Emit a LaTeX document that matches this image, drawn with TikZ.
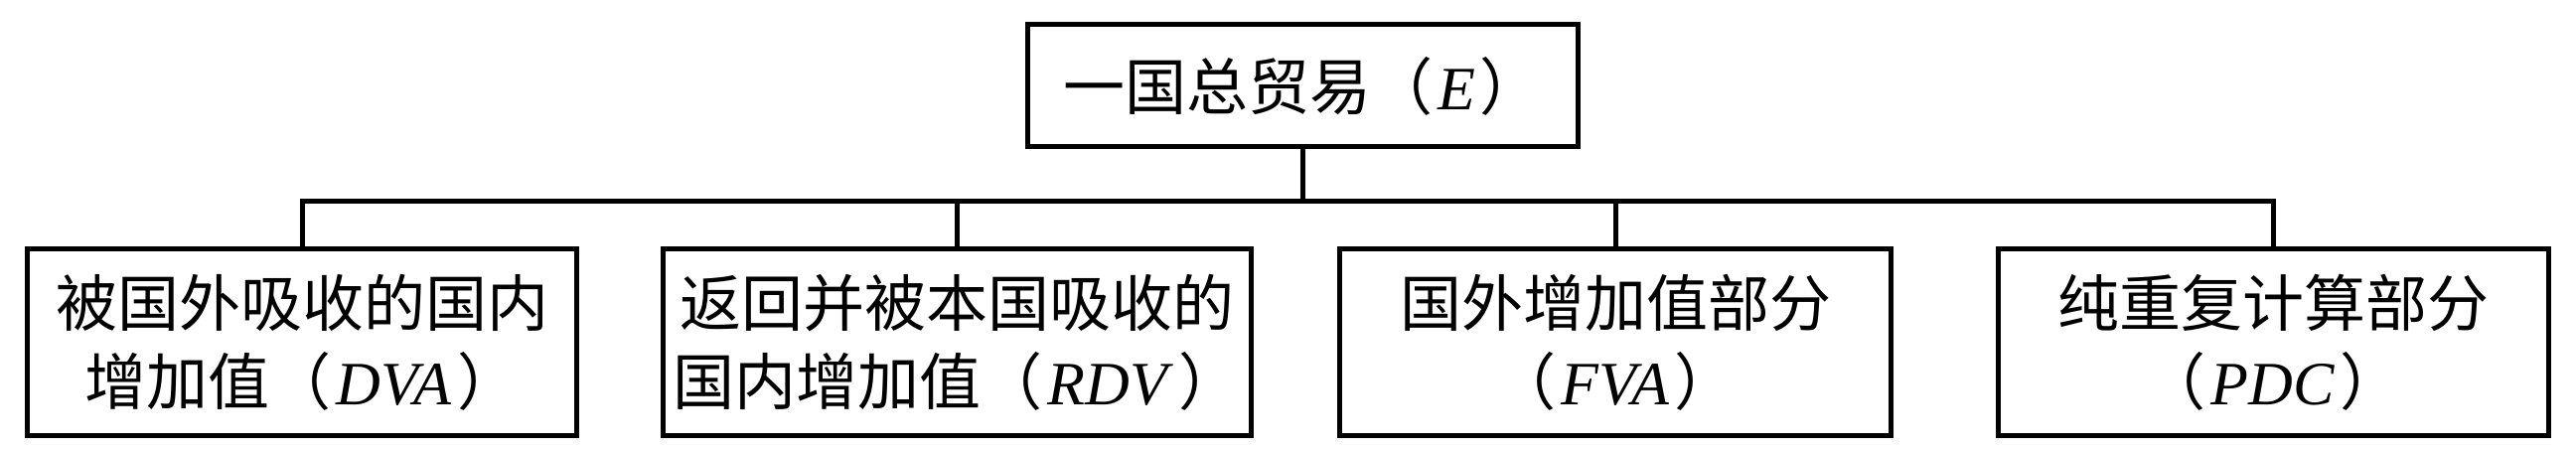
\documentclass[tikz,border=0pt]{standalone}
\usepackage{fontspec}
\setmainfont{Liberation Serif}
\newfontfamily\cjk{Noto Sans CJK SC}
\newcommand{\lat}[1]{\hspace{5pt}\textit{#1}\hspace{5pt}}
\begin{document}
\begin{tikzpicture}[x=1pt,y=-1pt,
  box/.style={draw=black, line width=5pt, line join=miter, rectangle, align=center, inner sep=0pt,
              font=\fontsize{62}{79}\selectfont, text=black},
  conn/.style={draw=black, line width=5pt, line join=miter}]
\fill[white] (0,0) rectangle (2593,454);
\useasboundingbox (0,0) rectangle (2593,454);

\node[box, minimum width=554pt, minimum height=123pt] (top) at (1311,86.5)
  {{\cjk 一国总贸易（}\lat{E}{\cjk ）}};

\node[box, minimum width=553pt, minimum height=187pt] (b1) at (304,344.5)
  {{\cjk 被国外吸收的国内}\\{\cjk 增加值（}\lat{DVA}{\cjk ）}};
\node[box, minimum width=592pt, minimum height=187pt] (b2) at (963,344.5)
  {{\cjk 返回并被本国吸收的}\\{\cjk 国内增加值（}\lat{RDV}{\cjk ）}};
\node[box, minimum width=555pt, minimum height=187pt] (b3) at (1626,344.5)
  {{\cjk 国外增加值部分}\\{\cjk （}\lat{FVA}{\cjk ）}};
\node[box, minimum width=554pt, minimum height=187pt] (b4) at (2288,344.5)
  {{\cjk 纯重复计算部分}\\{\cjk （}\lat{PDC}{\cjk ）}};

\coordinate (bus) at (0,203);
\draw[conn] (top.south) -- (top.south |- bus);
\draw[conn] (b1.north) |- (b4.north |- bus) -- (b4.north);
\draw[conn] (b2.north) -- (b2.north |- bus);
\draw[conn] (b3.north) -- (b3.north |- bus);
\end{tikzpicture}
\end{document}
